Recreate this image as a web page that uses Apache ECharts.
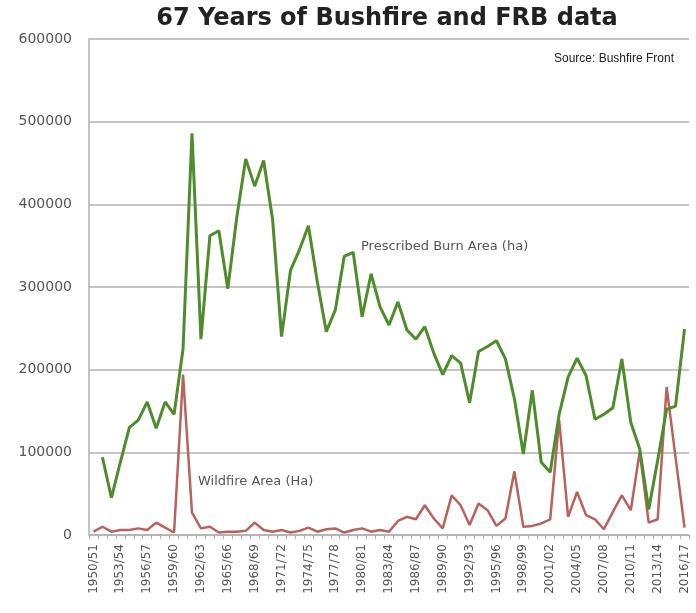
<!DOCTYPE html>
<html>
<head>
<meta charset="utf-8">
<script src="https://cdn.jsdelivr.net/npm/echarts@6/dist/echarts.min.js"></script>
<style>
  html, body { margin: 0; padding: 0; background: #fff; }
  #chart { width: 696px; height: 613px; }
</style>
</head>
<body>
<div id="chart"></div>
<script>
// seasons, 1950/51 .. 2016/17
const seasons = [
  '1950/51','1951/52','1952/53','1953/54','1954/55','1955/56','1956/57','1957/58','1958/59','1959/60',
  '1960/61','1961/62','1962/63','1963/64','1964/65','1965/66','1966/67','1967/68','1968/69','1969/70',
  '1970/71','1971/72','1972/73','1973/74','1974/75','1975/76','1976/77','1977/78','1978/79','1979/80',
  '1980/81','1981/82','1982/83','1983/84','1984/85','1985/86','1986/87','1987/88','1988/89','1989/90',
  '1990/91','1991/92','1992/93','1993/94','1994/95','1995/96','1996/97','1997/98','1998/99','1999/00',
  '2000/01','2001/02','2002/03','2003/04','2004/05','2005/06','2006/07','2007/08','2008/09','2009/10',
  '2010/11','2011/12','2012/13','2013/14','2014/15','2015/16','2016/17'
];

// Prescribed Burn Area (ha) - no value for first season
const prescribedBurn = [
  null, 94000, 45000, 88000, 130000, 139000, 161000, 129000, 161000, 146000,
  225000, 486000, 237000, 362000, 368000, 298000, 384000, 455000, 422000, 453000,
  382000, 240000, 320000, 345000, 374000, 306000, 246000, 272000, 337000, 342000,
  264000, 316000, 276000, 254000, 282000, 248000, 237000, 252000, 220000, 194000,
  217000, 208000, 160000, 222000, 228000, 235000, 213000, 165000, 98000, 175000,
  88000, 76000, 146000, 191000, 214000, 193000, 140000, 146000, 154000, 213000,
  136000, 104000, 31000, 90000, 152000, 156000, 249000
];

// Wildfire Area (Ha)
const wildfire = [
  4000, 10000, 4000, 6000, 6000, 8000, 6000, 15000, 9000, 3000,
  194000, 27000, 8000, 10000, 3000, 4000, 4000, 5000, 15000, 6000,
  4000, 6000, 3000, 5000, 9000, 4000, 7000, 8000, 3000, 6000,
  8000, 4000, 6000, 4000, 17000, 22000, 19000, 36000, 20000, 8000,
  48000, 36000, 12000, 38000, 30000, 11000, 20000, 77000, 10000, 11000,
  14000, 19000, 139000, 22000, 52000, 24000, 19000, 7000, 28000, 48000,
  30000, 101000, 15000, 19000, 179000, 94000, 9000
];

const yTicks = [0, 100000, 200000, 300000, 400000, 500000, 600000];

const chart = echarts.init(document.getElementById('chart'));

const option = {
  backgroundColor: '#fff',
  animation: false,
  title: [
    {
      text: '67 Years of Bushfire and FRB data',
      left: 382, top: 2, textAlign: 'center',
      textStyle: { fontFamily: 'DejaVu Sans', fontWeight: 'bold', fontSize: 24, color: '#222' }
    },
    {
      text: 'Source: Bushfire Front',
      right: 17, top: 48,
      textStyle: { fontFamily: 'Liberation Sans', fontWeight: 'normal', fontSize: 12, color: '#222' }
    }
  ],
  grid: { left: 89, right: 7, top: 39, bottom: 78 },
  xAxis: {
    type: 'category',
    data: seasons,
    boundaryGap: true,
    axisLine: { lineStyle: { color: '#b0b0b0', width: 1.5 } },
    axisTick: { show: true, interval: 0, length: 4, lineStyle: { color: '#b0b0b0' } },
    axisLabel: {
      interval: 2, rotate: 90, margin: 9,
      fontFamily: 'DejaVu Sans', fontSize: 12, color: '#555'
    },
    splitLine: { show: false }
  },
  yAxis: {
    type: 'value',
    min: yTicks[0], max: yTicks[yTicks.length - 1], interval: 100000,
    axisLine: { show: true, lineStyle: { color: '#b0b0b0', width: 1.5 } },
    axisTick: { show: false },
    axisLabel: {
      margin: 17, fontFamily: 'DejaVu Sans', fontSize: 14, color: '#555',
      formatter: v => String(v)
    },
    splitLine: { lineStyle: { color: '#b0b0b0', width: 1.5 } }
  },
  series: [
    {
      name: 'Prescribed Burn Area (ha)',
      type: 'line',
      data: prescribedBurn,
      symbol: 'none',
      connectNulls: false,
      lineStyle: { color: '#4e8c2c', width: 3 },
      z: 3
    },
    {
      name: 'Wildfire Area (Ha)',
      type: 'line',
      data: wildfire,
      symbol: 'none',
      lineStyle: { color: '#b8625e', width: 2.5 },
      z: 2
    }
  ],
  graphic: [
    {
      type: 'text', left: 361, top: 240,
      style: { text: 'Prescribed Burn Area (ha)', font: '13px "DejaVu Sans"', fill: '#555' }
    },
    {
      type: 'text', left: 198, top: 475,
      style: { text: 'Wildfire Area (Ha)', font: '13px "DejaVu Sans"', fill: '#555' }
    }
  ]
};

chart.setOption(option);
</script>
</body>
</html>
